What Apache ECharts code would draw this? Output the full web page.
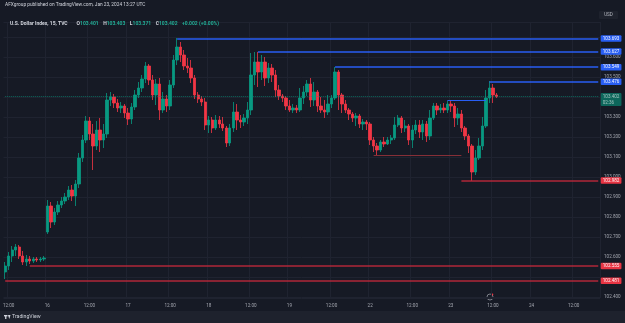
<!DOCTYPE html>
<html>
<head>
<meta charset="utf-8">
<script src="https://cdn.jsdelivr.net/npm/echarts@6/dist/echarts.min.js"></script>
<style>
html,body{margin:0;padding:0;background:#161a25;}
#main{width:625px;height:323px;}
</style>
</head>
<body>
<div id="main"></div>
<script>
// trading sessions (day of Jan 2024, first hour, last hour); hour 22 is the daily break
var sessions = [['15', 11, 23], ['16', 0, 23], ['17', 0, 23], ['18', 0, 23], ['19', 0, 21], ['21', 23, 23], ['22', 0, 23], ['23', 0, 23], ['24', 0, 19]];

// hourly candles
var openVals = [
	102.525,102.555,102.605,102.635,102.650,102.605,102.575,102.590,102.580,102.590,
	102.585,102.590,102.725,102.855,102.775,102.825,102.860,102.880,102.900,102.935,
	102.905,102.965,103.095,103.185,103.280,103.215,103.155,103.235,103.185,103.215,
	103.385,103.400,103.370,103.345,103.355,103.320,103.290,103.350,103.410,103.445,
	103.490,103.555,103.485,103.410,103.465,103.335,103.390,103.355,103.460,103.585,
	103.650,103.610,103.555,103.545,103.495,103.410,103.390,103.375,103.260,103.285,
	103.245,103.285,103.265,103.245,103.170,103.245,103.325,103.285,103.275,103.295,
	103.335,103.510,103.575,103.525,103.575,103.495,103.545,103.510,103.435,103.405,
	103.395,103.355,103.335,103.345,103.335,103.395,103.425,103.465,103.385,103.425,
	103.355,103.335,103.325,103.365,103.395,103.525,103.410,103.365,103.335,103.315,
	103.295,103.305,103.265,103.275,103.265,103.185,103.155,103.135,103.175,103.165,
	103.185,103.195,103.260,103.295,103.245,103.255,103.185,103.235,103.260,103.225,
	103.265,103.205,103.295,103.355,103.335,103.345,103.335,103.365,103.355,103.295,
	103.315,103.245,103.205,103.155,103.025,103.095,103.155,103.255,103.395,103.445,
	103.410
];
var closeVals = [
	102.555,102.605,102.635,102.650,102.605,102.575,102.590,102.580,102.590,102.585,
	102.590,102.595,102.855,102.775,102.825,102.860,102.880,102.900,102.935,102.905,
	102.965,103.095,103.185,103.280,103.215,103.155,103.235,103.185,103.215,103.385,
	103.400,103.370,103.345,103.355,103.320,103.290,103.350,103.410,103.445,103.490,
	103.555,103.485,103.410,103.465,103.335,103.390,103.355,103.460,103.585,103.650,
	103.610,103.555,103.545,103.495,103.410,103.390,103.375,103.260,103.285,103.245,
	103.285,103.265,103.245,103.170,103.245,103.325,103.285,103.275,103.295,103.335,
	103.510,103.575,103.525,103.575,103.495,103.545,103.510,103.435,103.405,103.395,
	103.355,103.335,103.345,103.335,103.395,103.425,103.465,103.385,103.425,103.355,
	103.335,103.325,103.365,103.395,103.525,103.410,103.365,103.335,103.315,103.295,
	103.305,103.265,103.275,103.265,103.185,103.155,103.135,103.175,103.165,103.185,
	103.195,103.260,103.295,103.245,103.255,103.185,103.235,103.260,103.225,103.265,
	103.205,103.295,103.355,103.335,103.345,103.335,103.365,103.355,103.295,103.315,
	103.245,103.205,103.155,103.025,103.095,103.155,103.255,103.395,103.445,103.410,
	103.402
];
var highVals = [
	102.575,102.625,102.655,102.665,102.660,102.630,102.610,102.605,102.600,102.600,
	102.600,102.605,102.885,102.875,102.845,102.880,102.900,102.920,102.955,102.960,
	102.985,103.120,103.210,103.305,103.300,103.265,103.280,103.295,103.265,103.420,
	103.425,103.415,103.390,103.375,103.365,103.345,103.370,103.435,103.475,103.510,
	103.575,103.565,103.510,103.490,103.495,103.425,103.410,103.485,103.610,103.695,
	103.675,103.635,103.595,103.585,103.510,103.425,103.405,103.395,103.305,103.300,
	103.310,103.305,103.300,103.255,103.265,103.375,103.365,103.310,103.315,103.375,
	103.620,103.625,103.625,103.610,103.600,103.570,103.565,103.535,103.460,103.415,
	103.405,103.385,103.365,103.360,103.445,103.455,103.485,103.495,103.475,103.435,
	103.400,103.385,103.410,103.410,103.550,103.535,103.420,103.385,103.345,103.325,
	103.320,103.315,103.290,103.285,103.275,103.200,103.170,103.185,103.200,103.200,
	103.210,103.300,103.310,103.305,103.285,103.265,103.260,103.285,103.285,103.285,
	103.280,103.335,103.370,103.370,103.365,103.370,103.380,103.385,103.370,103.345,
	103.335,103.255,103.215,103.165,103.135,103.195,103.300,103.435,103.480,103.465,
	103.420
];
var lowVals = [
	102.490,102.535,102.575,102.605,102.590,102.560,102.555,102.565,102.570,102.575,
	102.575,102.580,102.715,102.745,102.760,102.810,102.845,102.865,102.885,102.880,
	102.855,102.945,103.075,103.170,103.185,103.035,103.135,103.125,103.145,103.195,
	103.355,103.345,103.325,103.320,103.295,103.260,103.265,103.335,103.395,103.425,
	103.470,103.460,103.385,103.360,103.285,103.320,103.325,103.335,103.445,103.560,
	103.575,103.535,103.520,103.470,103.390,103.370,103.355,103.235,103.220,103.220,
	103.235,103.245,103.230,103.150,103.155,103.225,103.235,103.245,103.255,103.265,
	103.310,103.460,103.450,103.485,103.455,103.470,103.475,103.400,103.385,103.375,
	103.335,103.325,103.320,103.320,103.325,103.365,103.405,103.350,103.355,103.325,
	103.320,103.295,103.310,103.345,103.385,103.335,103.320,103.320,103.285,103.275,
	103.255,103.245,103.235,103.235,103.160,103.125,103.110,103.125,103.150,103.160,
	103.165,103.185,103.250,103.220,103.225,103.160,103.145,103.215,103.195,103.185,
	103.175,103.185,103.285,103.310,103.320,103.320,103.320,103.325,103.250,103.260,
	103.225,103.185,103.120,102.980,103.010,103.085,103.135,103.245,103.370,103.370,
	103.395
];

// drawn levels: price, first bar, last bar (-1 = to the price scale), which side
var levelPrices = [103.693, 103.627, 103.549, 103.476, 103.385, 103.110, 102.982, 102.555, 102.481];
var levelFrom = [49, 72, 94, 138, 126, 105, 130, 7, 0];
var levelTo = [-1, -1, -1, -1, 137, 130, -1, -1, -1];
var levelSide = ['high', 'high', 'high', 'high', 'high', 'low', 'low', 'low', 'low'];

var lastPrice = 103.402;
var countdown = '02:36';
var hiddenTicks = ['103.7', '103.4', '102.5'];

function pad(h) {
	return (h < 10 ? '0' : '') + h;
}
var times = [];
sessions.forEach(function(s) {
	for(var h = s[1]; h <= s[2]; h++) {
		if(h === 22) continue;
		times.push(s[0] + ' ' + pad(h) + ':00');
	}
});
var lastIdx = times.length - 1;

function isMajor(idx, val) {
	var hh = times[idx].slice(3);
	return hh === '00:00' || hh === '12:00';
}

var candles = [];
for(var i = 0; i < openVals.length; i++) {
	candles.push([openVals[i], closeVals[i], lowVals[i], highVals[i]]);
}

var lines = [];
for(var k = 0; k < levelPrices.length; k++) {
	var blue = levelSide[k] === 'high';
	var toAxis = levelTo[k] < 0;
	var col = blue ? '#2962ff' : (toAxis ? '#b8283a' : '#8c3038');
	lines.push([{
		coord: [levelFrom[k], levelPrices[k]],
		lineStyle: { color: col, width: toAxis ? 1.5 : 1.2, type: 'solid', opacity: 0.95 },
		label: {
			show: toAxis,
			position: 'end',
			distance: 2.5,
			formatter: levelPrices[k].toFixed(3),
			color: '#ffffff',
			backgroundColor: blue ? '#2962ff' : '#f23645',
			padding: [1, 2, 0.5, 2],
			borderRadius: 1,
			fontSize: 4.6
		}
	}, {
		coord: [toAxis ? lastIdx : levelTo[k], levelPrices[k]]
	}]);
}
// current price line
lines.push([{
	coord: [0, lastPrice],
	lineStyle: { color: '#089981', width: 1, type: 'dotted', opacity: 0.6 },
	label: {
		show: true,
		position: 'end',
		distance: 2.5,
		offset: [0, 3],
		formatter: lastPrice.toFixed(3) + '\n' + countdown,
		color: '#ffffff',
		backgroundColor: '#089981',
		padding: [1, 2, 1, 2],
		lineHeight: 5.5,
		borderRadius: 1,
		fontSize: 4.6
	}
}, {
	coord: [lastIdx, lastPrice]
}]);

var myChart = echarts.init(document.getElementById('main'));
var option = {
	backgroundColor: '#161a25',
	animation: false,
	textStyle: { fontFamily: 'Roboto' },
	title: {
		left: 5,
		top: 10,
		text: '{n|U.S. Dollar Index, 15, TVC}  {k|O}{v|103.401} {k|H}{v|103.403} {k|L}{v|103.371} {k|C}{v|103.402} {v|+0.002 (+0.00%)}',
		textStyle: {
			rich: {
				n: { color: '#d1d4dc', fontSize: 5 },
				k: { color: '#d1d4dc', fontSize: 5 },
				v: { color: '#22ab94', fontSize: 5 }
			}
		}
	},
	grid: {
		left: 0,
		right: 25,
		top: 22,
		bottom: 25
	},
	xAxis: {
		type: 'category',
		data: times,
		boundaryGap: true,
		axisLine: { show: false },
		axisTick: { show: false },
		axisLabel: {
			interval: isMajor,
			color: '#a3a6af',
			fontSize: 4.6,
			margin: 5,
			formatter: function(val) {
				var hh = val.slice(3);
				if(hh === '00:00') return val.slice(0, 2);
				if(hh === '12:00') return '12:00';
				return '';
			}
		},
		splitLine: {
			show: true,
			interval: isMajor,
			lineStyle: { color: '#1f2330', width: 1 }
		}
	},
	yAxis: {
		type: 'value',
		position: 'right',
		scale: true,
		min: 102.395,
		max: 103.775,
		splitNumber: 14,
		axisLine: { show: false },
		axisTick: { show: false },
		axisLabel: {
			showMinLabel: false,
			showMaxLabel: false,
			color: '#a3a6af',
			fontSize: 4.6,
			margin: 4,
			formatter: function(v) {
				if(hiddenTicks.indexOf(v.toFixed(1)) >= 0) return '';
				return v.toFixed(3);
			}
		},
		splitLine: {
			lineStyle: { color: '#1f2330', width: 1 }
		}
	},
	series: [{
		type: 'candlestick',
		data: candles,
		barWidth: 2.9,
		itemStyle: {
			color: '#089981',
			color0: '#f23645',
			borderColor: '#089981',
			borderColor0: '#f23645',
			borderWidth: 0.8
		},
		markLine: {
			silent: true,
			symbol: ['none', 'none'],
			data: lines
		}
	}],
	graphic: [{
		type: 'text',
		left: 5,
		top: 2,
		style: { text: 'AFXgroup published on TradingView.com, Jan 23, 2024 13:27 UTC', fill: '#d1d4dc', fontSize: 4.8, fontFamily: 'Roboto' }
	}, {
		type: 'rect',
		shape: { x: 599, y: 11, width: 19, height: 8, r: 1 },
		style: { fill: '#1e222d' }
	}, {
		type: 'text',
		x: 608.5,
		y: 15,
		style: { text: 'USD', fill: '#b2b5be', fontSize: 4.6, fontFamily: 'Roboto', align: 'center', verticalAlign: 'middle' }
	}, {
		type: 'circle',
		shape: { cx: 490, cy: 297, r: 3 },
		style: { fill: 'none', stroke: '#9598a1', lineWidth: 0.8 }
	}, {
		type: 'circle',
		shape: { cx: 492.3, cy: 294.6, r: 1 },
		style: { fill: '#f23645' }
	}, {
		type: 'rect',
		shape: { x: 0, y: 311, width: 625, height: 12 },
		style: { fill: '#1e222d' }
	}, {
		type: 'rect',
		shape: { x: 4, y: 315, width: 3.5, height: 1.4 },
		style: { fill: '#d1d4dc' }
	}, {
		type: 'rect',
		shape: { x: 5.1, y: 315, width: 1.3, height: 4 },
		style: { fill: '#d1d4dc' }
	}, {
		type: 'polygon',
		shape: { points: [[8, 315], [10.5, 315], [9.3, 319]] },
		style: { fill: '#d1d4dc' }
	}, {
		type: 'text',
		x: 12,
		y: 317,
		style: { text: 'TradingView', fill: '#d1d4dc', fontSize: 5.2, fontFamily: 'Roboto', verticalAlign: 'middle' }
	}]
};
myChart.setOption(option);
</script>
</body>
</html>
